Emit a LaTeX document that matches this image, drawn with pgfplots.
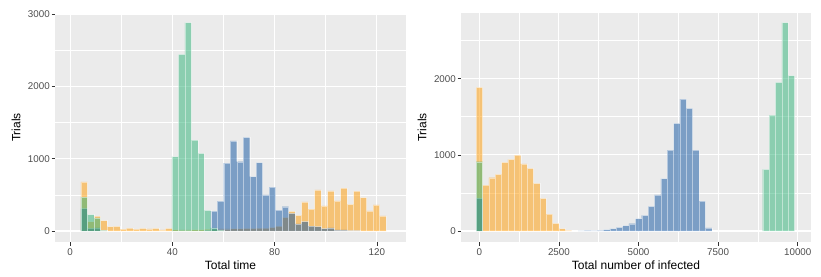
\documentclass[border=0pt]{standalone}
\usepackage{pgfplots}
\pgfplotsset{compat=1.18}
\usepackage{fontspec}
\setmainfont{Liberation Sans}
\definecolor{ggbg}{RGB}{235,235,235}
\definecolor{cgreen}{RGB}{45,179,119}
\definecolor{cblue}{RGB}{12,82,160}
\definecolor{corange}{RGB}{255,155,0}
\definecolor{ticklab}{RGB}{77,77,77}
\definecolor{tickmark}{RGB}{51,51,51}
\pgfplotsset{
  ggstyle/.style={
    scale only axis,
    anchor=south west,
    scaled ticks=false,
    axis background/.style={fill=ggbg},
    axis line style={draw=none},
    grid=both,
    major grid style={white, line width=1.07pt},
    minor grid style={white, line width=0.53pt},
    tick align=outside,
    tick pos=left,
    major tick length=3.5pt,
    minor tick length=0pt,
    tick style={tickmark, line width=0.5pt},
    ticklabel style={font=\fontsize{9.8}{10}\selectfont, text=ticklab, inner sep=0pt},
    xticklabel style={anchor=north, yshift=-2.8pt},
    yticklabel style={anchor=east, xshift=-1.5pt},
    label style={font=\fontsize{12}{14}\selectfont, inner sep=0pt},
    ylabel={Trials},
  },
  hbar/.style={ybar, bar shift=0pt, fill=#1, fill opacity=0.5, draw=white, draw opacity=0.45, line width=0.4pt},
}
\begin{document}
\begin{tikzpicture}
\useasboundingbox (0,0) rectangle (821pt,276pt);
\begin{axis}[ggstyle,
  at={(55pt,34pt)}, width=351pt, height=229pt,
  xmin=-5.9, xmax=131.4, ymin=-152, ymax=3014,
  xtick={0,40,80,120}, xticklabels={0,40,80,120},
  minor xtick={20,60,100},
  ytick={0,1000,2000,3000}, yticklabels={0,1000,2000,3000},
  minor ytick={500,1500,2500},
  xlabel={Total time},
  xlabel style={at={(axis description cs:0.5,-0.083)}, anchor=north},
  ylabel style={at={(axis description cs:-0.0977,0.5)}, anchor=south},
  bar width=2.54,
]
\addplot[hbar=corange] coordinates {
(5.49,680) (8.03,130) (10.57,205) (13.11,143) (15.65,60) (18.19,65) (20.73,25)
(23.27,40) (25.81,25) (28.35,35) (30.89,30) (33.43,35) (35.97,15) (38.51,35)
(41.05,20) (43.59,15) (46.13,15) (48.67,20) (51.21,20) (53.75,25) (56.29,30)
(58.83,30) (61.37,30) (63.91,32) (66.45,32) (68.99,35) (71.53,38) (74.07,40)
(76.61,40) (79.15,50) (81.69,69) (84.23,190) (86.77,272) (89.31,216) (91.85,403)
(94.39,302) (96.93,567) (99.47,346) (102.01,555) (104.55,417) (107.09,592)
(109.63,369) (112.17,553) (114.71,461) (117.25,277) (119.79,360) (122.33,210)
};
\addplot[hbar=cblue] coordinates {
(5.49,309) (8.03,37) (10.57,45) (13.11,5) (53.75,10) (56.29,276) (58.83,413)
(61.37,940) (63.91,1246) (66.45,958) (68.99,1295) (71.53,751) (74.07,945)
(76.61,498) (79.15,608) (81.69,288) (84.23,336) (86.77,245) (89.31,97)
(91.85,129) (94.39,69) (96.93,60) (99.47,32) (102.01,44) (104.55,14)
(107.09,14) (109.63,5) (112.17,5)
};
\addplot[hbar=cgreen] coordinates {
(5.49,470) (8.03,228) (10.57,180) (13.11,10) (41.05,1028) (43.59,2443)
(46.13,2880) (48.67,1258) (51.21,1074) (53.75,285) (56.29,45) (58.83,12)
};
\end{axis}
\begin{axis}[ggstyle,
  at={(461pt,34pt)}, width=350pt, height=229pt,
  xmin=-575, xmax=10417, ymin=-144, ymax=2862,
  xtick={0,2500,5000,7500,10000}, xticklabels={0,2500,5000,7500,10000},
  minor xtick={1250,3750,6250,8750},
  ytick={0,1000,2000}, yticklabels={0,1000,2000},
  minor ytick={500,1500,2500},
  xlabel={Total number of infected},
  xlabel style={at={(axis description cs:0.5,-0.083)}, anchor=north},
  ylabel style={at={(axis description cs:-0.098,0.5)}, anchor=south},
  bar width=200,
]
\addplot[hbar=corange] coordinates {
(0,1886) (200,604) (400,700) (600,744) (800,902) (1000,941) (1200,998)
(1400,880) (1600,823) (1800,626) (2000,429) (2200,223) (2400,101) (2600,32) (2800,8)
};
\addplot[hbar=cblue] coordinates {
(0,429) (3200,2) (3400,4) (3600,6) (3800,9) (4000,18) (4200,32) (4400,48)
(4600,72) (4800,96) (5000,162) (5200,204) (5400,324) (5600,475) (5800,687)
(6000,1063) (6200,1414) (6400,1733) (6600,1610) (6800,1063) (7000,392) (7200,40)
};
\addplot[hbar=cgreen] coordinates {
(0,910) (9000,810) (9200,1523) (9400,1952) (9600,2735) (9800,2039)
};
\end{axis}
\end{tikzpicture}
\end{document}
